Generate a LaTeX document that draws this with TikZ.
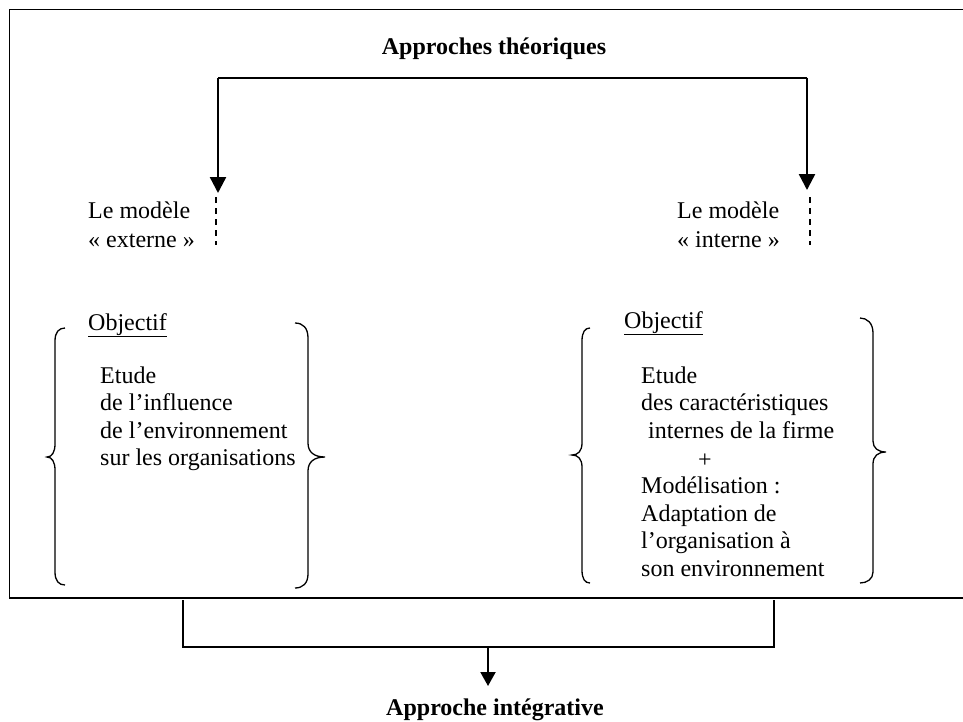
\documentclass[tikz,border=0pt]{standalone}
\usepackage{fontspec}
\setmainfont{Liberation Serif}
\usetikzlibrary{arrows.meta}
\begin{document}
\begin{tikzpicture}[x=1pt,y=-1pt,
  txt/.style={font=\fontsize{24}{27.6}\selectfont, inner sep=0pt, anchor=base west},
  ttl/.style={font=\fontsize{24}{27.6}\selectfont\bfseries, inner sep=0pt, anchor=base},
  frame/.style={line width=1.5pt},
  link/.style={line width=1.6pt},
  arr/.style={line width=2.4pt, -{Triangle[length=16pt,width=16pt]}},
  smallarr/.style={line width=2pt, -{Triangle[length=14pt,width=15pt]}},
  dashline/.style={line width=1.5pt, dash pattern=on 6pt off 5pt},
  bracepath/.style={line width=1.3pt}]
\useasboundingbox (0,0) rectangle (963,721);

% outer frame (open on the right, beyond the picture)
\draw[frame] (970,9.5) -- (9.5,9.5) -- (9.5,598) -- (970,598);

% title
\node[ttl] (title) at (494,54) {Approches théoriques};

% connector
\coordinate (cL) at (218,77.7);
\coordinate (cR) at (807,77.7);
\coordinate (aL) at (218,193);
\coordinate (aR) at (807,190);
\draw[link] (cL) -- (cR);
\draw[arr] (cL) -- (aL);
\draw[arr] (cR) -- (aR);

% dashed continuations
\coordinate (dL1) at (216,197);
\coordinate (dL2) at (216,245);
\coordinate (dR1) at (810,197);
\coordinate (dR2) at (810,245);
\draw[dashline] (dL1) -- (dL2);
\draw[dashline] (dR1) -- (dR2);

% model labels
\node[txt] (ext1) at (88,218) {Le modèle};
\node[txt] (ext2) at (88,247) {« externe »};
\node[txt] (int1) at (677,218) {Le modèle};
\node[txt] (int2) at (677,247) {« interne »};

% left objective
\node[txt] (objL) at (88,330) {\underline{Objectif}};
\node[txt] (l1) at (100,383) {Etude};
\node[txt] (l2) at (100,410.6) {de l’influence};
\node[txt] (l3) at (100,438.2) {de l’environnement};
\node[txt] (l4) at (100,465.8) {sur les organisations};

% right objective
\node[txt] (objR) at (624,328) {\underline{Objectif}};
\node[txt] (r1) at (641,383) {Etude};
\node[txt] (r2) at (641,410.6) {des caractéristiques};
\node[txt] (r3) at (648,438.2) {internes de la firme};
\node[txt, anchor=base] (r4) at (705,467) {+};
\node[txt] (r5) at (641,493.4) {Modélisation :};
\node[txt] (r6) at (641,521) {Adaptation de};
\node[txt] (r7) at (641,548.6) {l’organisation à};
\node[txt] (r8) at (641,576.2) {son environnement};

% braces, left block
\draw[bracepath] (65,328) .. controls (59,328) and (55,332) .. (55,341) -- (55,444)
  .. controls (55,452) and (52,457) .. (47,457)
  .. controls (52,457) and (55,462) .. (55,470) -- (55,572)
  .. controls (55,581) and (59,585) .. (65,585);
\draw[bracepath] (295,323) .. controls (303,323) and (308,328) .. (308,338) -- (308,443)
  .. controls (308,452) and (314,457) .. (325,457)
  .. controls (314,457) and (308,462) .. (308,471) -- (308,574)
  .. controls (308,583) and (303,588) .. (295,588);

% braces, right block
\draw[bracepath] (590,328) .. controls (585,328) and (582,332) .. (582,341) -- (582,443)
  .. controls (582,451) and (578,455) .. (572,455)
  .. controls (578,455) and (582,459) .. (582,467) -- (582,570)
  .. controls (582,579) and (585,583) .. (590,583);
\draw[bracepath] (860,318) .. controls (867,318) and (873,323) .. (873,333) -- (873,441)
  .. controls (873,448) and (878,452) .. (886,452)
  .. controls (878,452) and (873,456) .. (873,464) -- (873,572)
  .. controls (873,579) and (867,583) .. (860,583);

% bottom bracket and arrow
\coordinate (b1) at (183,600);
\coordinate (b2) at (183,647);
\coordinate (b3) at (774,647);
\coordinate (b4) at (774,600);
\draw[frame] (b1) -- (b2) -- (b3) -- (b4);
\coordinate (m1) at (488,647);
\node[ttl] (integ) at (495,715) {Approche intégrative};
\coordinate (m2) at (488,686);
\draw[smallarr] (m1) -- (m2);
\end{tikzpicture}
\end{document}
